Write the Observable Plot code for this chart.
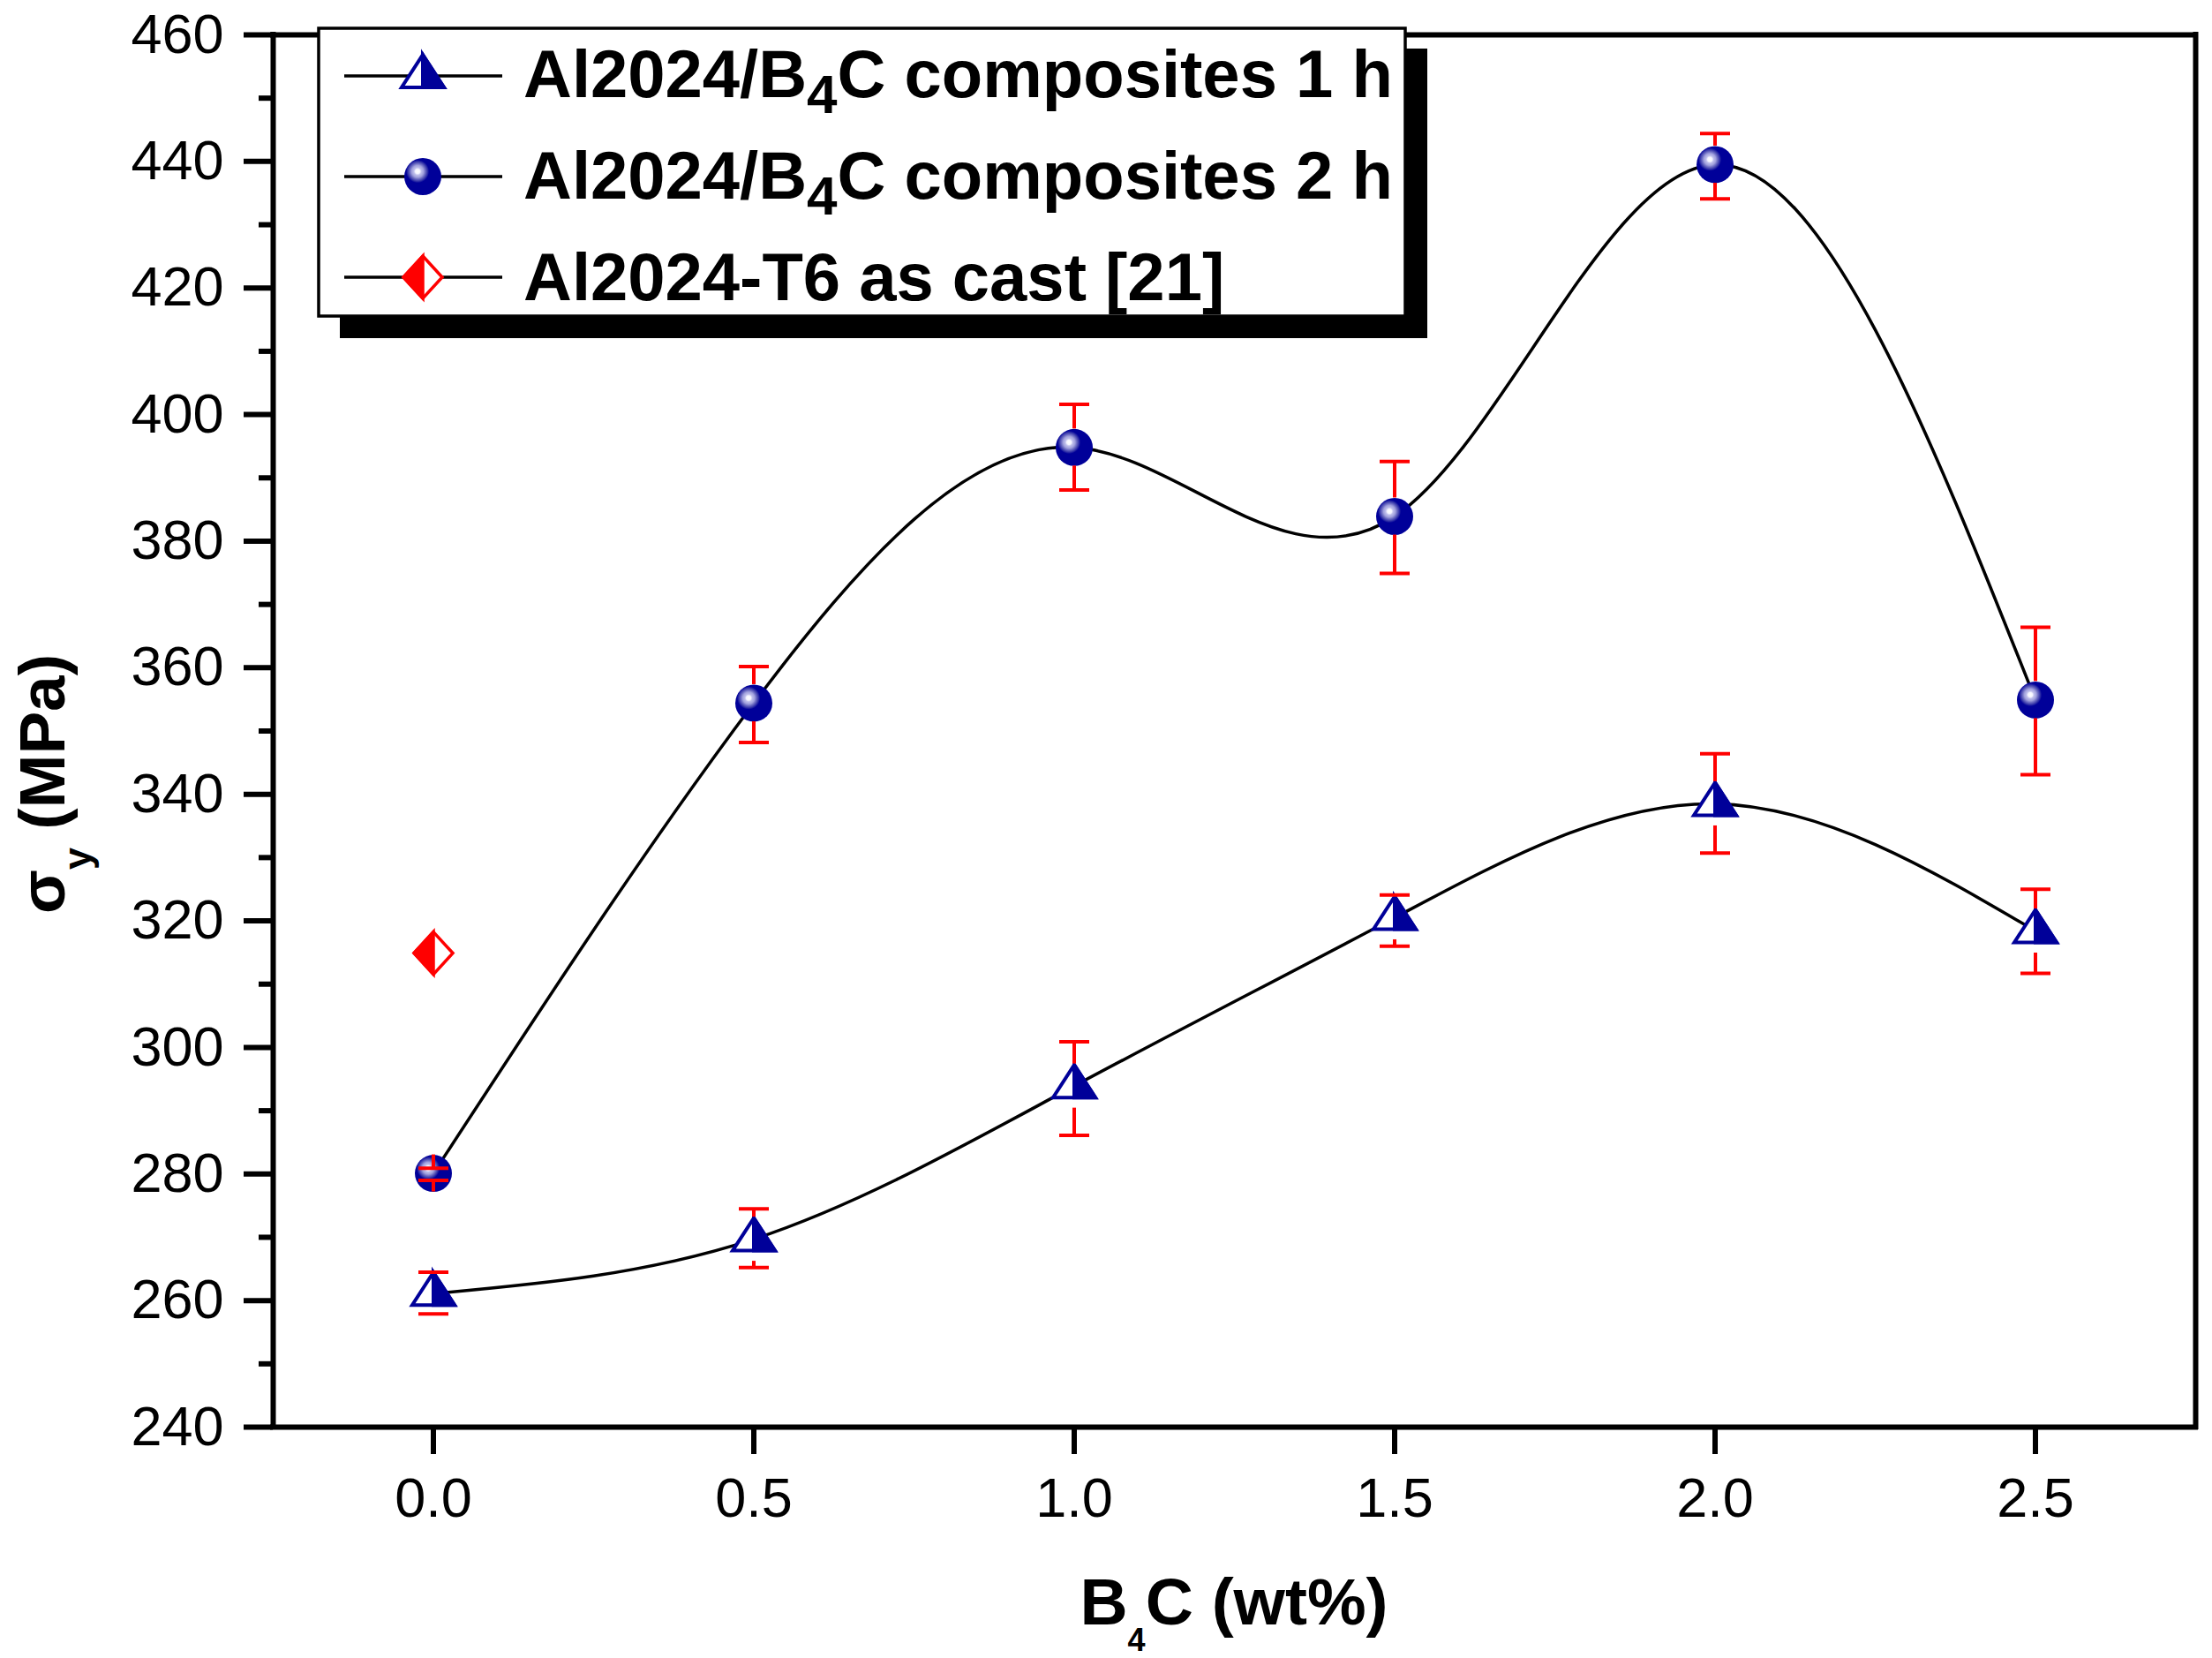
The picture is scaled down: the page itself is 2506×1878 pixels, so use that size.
<!DOCTYPE html>
<html>
<head>
<meta charset="utf-8">
<script src="https://cdn.jsdelivr.net/npm/d3@7"></script>
<script src="https://cdn.jsdelivr.net/npm/@observablehq/plot@0.6"></script>
<style>
  html, body { margin: 0; padding: 0; background: white; }
  svg { display: block; }
</style>
</head>
<body>
<div id="chart"></div>
<script>
// ---- data ----
const xVals = [0.0, 0.5, 1.0, 1.5, 2.0, 2.5];

const y1h  = [261.1, 269.7, 293.9, 320.5, 338.5, 318.4];
const hi1h = [264.5, 274.5, 300.9, 324.1, 346.4, 325.0];
const lo1h = [257.9, 265.2, 286.1, 316.0, 330.7, 311.7];

const y2h  = [280.1, 354.4, 394.8, 383.9, 439.5, 354.9];
const hi2h = [280.9, 360.2, 401.6, 392.6, 444.4, 366.4];
const lo2h = [279.0, 348.2, 388.1, 374.9, 434.1, 343.1];

const t6x = [0.0];
const t6y = [314.9];

const xTicks = [0.0, 0.5, 1.0, 1.5, 2.0, 2.5];
const yMajor = [240, 260, 280, 300, 320, 340, 360, 380, 400, 420, 440, 460];
const yMinor = [250, 270, 290, 310, 330, 350, 370, 390, 410, 430, 450];

const legendLabels = [
  ["Al2024/B", "4", "C composites 1 h"],
  ["Al2024/B", "4", "C composites 2 h"],
  ["Al2024-T6 as cast [21]"]
];

// ---- tables ----
const rows1 = xVals.map((x, i) => ({x, y: y1h[i], hi: hi1h[i], lo: lo1h[i]}));
const rows2 = xVals.map((x, i) => ({x, y: y2h[i], hi: hi2h[i], lo: lo2h[i]}));
const rowsT6 = t6x.map((x, i) => ({x, y: t6y[i]}));

// ---- styles ----
const BLUE = "#000099";
const RED = "#FF0000";
const FONT = "'Liberation Sans', Arial, Helvetica, sans-serif";

// ---- custom symbols ----
const triFull = {draw(c) { c.moveTo(0, -24); c.lineTo(24, 13); c.lineTo(-24, 13); c.closePath(); }};
const triHalf = {draw(c) { c.moveTo(0, -24); c.lineTo(24, 13); c.lineTo(0, 13); c.closePath(); }};
const diaFull = {draw(c) { c.moveTo(0, -24); c.lineTo(22, 0); c.lineTo(0, 24); c.lineTo(-22, 0); c.closePath(); }};
const diaHalf = {draw(c) { c.moveTo(0, -24); c.lineTo(0, 24); c.lineTo(-22, 0); c.closePath(); }};
const capSym  = {draw(c) { c.moveTo(-17, 0); c.lineTo(17, 0); }};

// whisker from cap to the symbol edge (gap in pixels)
function whiskers(data, gap) {
  const up = Plot.ruleX(data, {
    x: "x", y1: "hi", y2: "y", stroke: RED, strokeWidth: 4,
    render(index, scales, values, dimensions, context, next) {
      const y2 = Array.from(values.y2, v => v - gap);
      return next(index, scales, {...values, y2}, dimensions, context);
    }
  });
  const down = Plot.ruleX(data, {
    x: "x", y1: "lo", y2: "y", stroke: RED, strokeWidth: 4,
    render(index, scales, values, dimensions, context, next) {
      const y2 = Array.from(values.y2, v => v + gap);
      return next(index, scales, {...values, y2}, dimensions, context);
    }
  });
  const capsHi = Plot.dot(data, {x: "x", y: "hi", symbol: capSym, fill: "none", stroke: RED, strokeWidth: 4});
  const capsLo = Plot.dot(data, {x: "x", y: "lo", symbol: capSym, fill: "none", stroke: RED, strokeWidth: 4});
  return [up, down, capsHi, capsLo];
}

const chart = Plot.plot({
  width: 2506,
  height: 1878,
  marginLeft: 309,
  marginRight: 19,
  marginTop: 39,
  marginBottom: 262,
  style: {fontFamily: FONT, background: "white", color: "black", overflow: "visible"},
  x: {domain: [-0.25, 2.75]},
  y: {domain: [240, 460]},
  marks: [
    Plot.axisX({ticks: xTicks, tickFormat: d3.format(".1f"), tickSize: 31, tickPadding: 26,
                strokeWidth: 6, fontSize: 63, label: null}),
    Plot.axisY({ticks: yMajor, tickSize: 33, tickPadding: 23, strokeWidth: 6, fontSize: 63, label: null}),
    Plot.axisY({ticks: yMinor, tickSize: 16, strokeWidth: 6, tickFormat: () => "", label: null}),
    Plot.ruleY([240], {stroke: "black", strokeWidth: 6, strokeLinecap: "square"}),
    Plot.ruleY([460], {stroke: "black", strokeWidth: 6, strokeLinecap: "square"}),
    Plot.ruleX([-0.25], {stroke: "black", strokeWidth: 6, strokeLinecap: "square"}),
    Plot.ruleX([2.75], {stroke: "black", strokeWidth: 6, strokeLinecap: "square"}),
    Plot.line(rows1, {x: "x", y: "y", curve: "natural", stroke: "black", strokeWidth: 3.5}),
    Plot.line(rows2, {x: "x", y: "y", curve: "natural", stroke: "black", strokeWidth: 3.5}),
    Plot.dot(rows1, {x: "x", y: "y", symbol: triFull, fill: "white", stroke: BLUE, strokeWidth: 4}),
    Plot.dot(rows1, {x: "x", y: "y", symbol: triHalf, fill: BLUE, stroke: BLUE, strokeWidth: 4}),
    Plot.dot(rows2, {x: "x", y: "y", r: 21, fill: "url(#ball)", stroke: "none"}),
    ...whiskers(rows1, 25),
    ...whiskers(rows2, 21),
    Plot.dot(rowsT6, {x: "x", y: "y", symbol: diaFull, fill: "white", stroke: RED, strokeWidth: 3.5}),
    Plot.dot(rowsT6, {x: "x", y: "y", symbol: diaHalf, fill: RED, stroke: RED, strokeWidth: 3.5})
  ]
});

document.getElementById("chart").appendChild(chart);
const svg = d3.select(chart.tagName.toLowerCase() === "svg" ? chart : chart.querySelector("svg"));

// gradient for the shaded balls
const defs = svg.insert("defs", ":first-child");
const grad = defs.append("radialGradient").attr("id", "ball")
  .attr("cx", 0.36).attr("cy", 0.36).attr("r", 0.62).attr("fx", 0.36).attr("fy", 0.36);
[[0, "#ffffff"], [0.1, "#f4f4ff"], [0.16, "#c0c0ec"], [0.26, "#a0a0dc"], [0.33, "#7070c4"],
 [0.42, "#3838aa"], [0.5, BLUE], [1, BLUE]].forEach(([o, c]) =>
  grad.append("stop").attr("offset", o).attr("stop-color", c));

// axis titles
const xl = svg.append("text").attr("x", 1398).attr("y", 1840).attr("text-anchor", "middle")
  .attr("font-family", FONT).attr("font-weight", "bold").attr("font-size", 75).attr("fill", "black");
xl.append("tspan").text("B");
xl.append("tspan").attr("font-size", 36).attr("dy", 30).text("4");
xl.append("tspan").attr("dy", -30).text("C (wt%)");

const yl = svg.append("text").attr("transform", "translate(73,888) rotate(-90)").attr("text-anchor", "middle")
  .attr("font-family", FONT).attr("font-weight", "bold").attr("font-size", 73).attr("fill", "black");
yl.append("tspan").text("σ");
yl.append("tspan").attr("font-size", 45).attr("dy", 30).text("y");
yl.append("tspan").attr("dy", -30).text(" (MPa)");

// legend
const lg = svg.append("g");
lg.append("rect").attr("x", 385).attr("y", 55).attr("width", 1232).attr("height", 328).attr("fill", "black");
lg.append("rect").attr("x", 361).attr("y", 32).attr("width", 1231).attr("height", 326)
  .attr("fill", "white").attr("stroke", "black").attr("stroke-width", 3.5);
const rowCy = [86, 200, 314];
const rowBase = [110, 225, 340];
const sym = s => d3.symbol().type(s).size(100)();
legendLabels.forEach((parts, i) => {
  const cy = rowCy[i];
  lg.append("line").attr("x1", 390).attr("x2", 569).attr("y1", cy).attr("y2", cy)
    .attr("stroke", "black").attr("stroke-width", 3.5);
  const m = lg.append("g").attr("transform", `translate(479,${cy})`);
  if (i === 0) {
    m.append("path").attr("d", sym(triFull)).attr("fill", "white").attr("stroke", BLUE).attr("stroke-width", 4);
    m.append("path").attr("d", sym(triHalf)).attr("fill", BLUE).attr("stroke", BLUE).attr("stroke-width", 4);
  } else if (i === 1) {
    m.append("circle").attr("r", 21).attr("fill", "url(#ball)");
  } else {
    m.append("path").attr("d", sym(diaFull)).attr("fill", "white").attr("stroke", RED).attr("stroke-width", 3.5);
    m.append("path").attr("d", sym(diaHalf)).attr("fill", RED).attr("stroke", RED).attr("stroke-width", 3.5);
  }
  const t = lg.append("text").attr("x", 593).attr("y", rowBase[i]).attr("text-anchor", "start")
    .attr("font-family", FONT).attr("font-weight", "bold").attr("font-size", 76).attr("fill", "black");
  if (parts.length === 3) {
    t.append("tspan").text(parts[0]);
    t.append("tspan").attr("font-size", 62).attr("dy", 18).text(parts[1]);
    t.append("tspan").attr("dy", -18).text(parts[2]);
  } else {
    t.append("tspan").text(parts[0]);
  }
});
</script>
</body>
</html>
